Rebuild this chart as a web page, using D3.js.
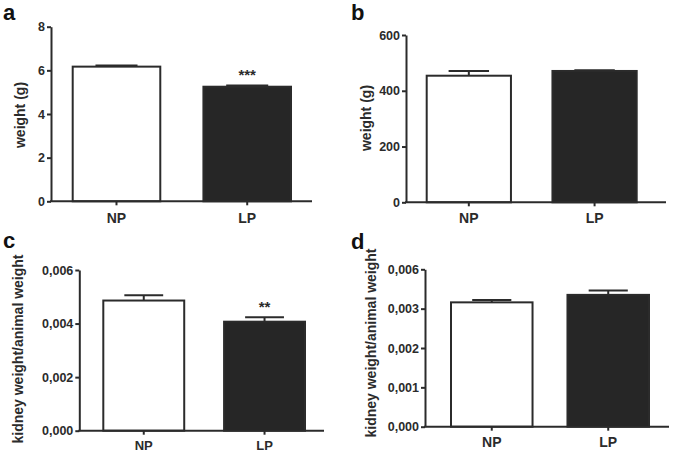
<!DOCTYPE html>
<html>
<head>
<meta charset="utf-8">
<script src="https://cdn.jsdelivr.net/npm/d3@7/dist/d3.min.js"></script>
<style>
  html, body { margin: 0; padding: 0; background: #fff; }
  svg { display: block; font-family: "Liberation Sans", Arial, Helvetica, sans-serif; }
</style>
</head>
<body>
<svg id="chart" width="675" height="452"></svg>
<script>
// ---------- DATA ----------
const categories = ["NP", "LP"];

const panelALetter = "a";
const panelAValues = [6.17, 5.25];
const panelAErrors = [0.05, 0.06];
const panelATicks = [0, 2, 4, 6, 8];
const panelATickLabels = ["0", "2", "4", "6", "8"];
const panelAYLabel = "weight (g)";
const panelASignif = ["", "***"];

const panelBLetter = "b";
const panelBValues = [454, 471];
const panelBErrors = [17, 3];
const panelBTicks = [0, 200, 400, 600];
const panelBTickLabels = ["0", "200", "400", "600"];
const panelBYLabel = "weight (g)";
const panelBSignif = ["", ""];

const panelCLetter = "c";
const panelCValues = [0.00486, 0.00407];
const panelCErrors = [0.00020, 0.00017];
const panelCTicks = [0, 0.002, 0.004, 0.006];
const panelCTickLabels = ["0,000", "0,002", "0,004", "0,006"];
const panelCYLabel = "kidney weight/animal weight";
const panelCSignif = ["", "**"];

const panelDLetter = "d";
const panelDValues = [0.00316, 0.00335];
const panelDErrors = [0.00006, 0.00011];
const panelDTicks = [0, 0.001, 0.002, 0.003, 0.004];
const panelDTickLabels = ["0,000", "0,001", "0,002", "0,003", "0,006"];
const panelDYLabel = "kidney weight/animal weight";
const panelDSignif = ["", ""];

// ---------- LAYOUT ----------
const INK = "#2b2b2b";
const BAR_DARK = "#262626";
const svg = d3.select("#chart");

const panels = [
  { letter: panelALetter, values: panelAValues, errors: panelAErrors, ticks: panelATicks, tickLabels: panelATickLabels,
    yLabel: panelAYLabel, signif: panelASignif,
    axisX: 51, yTop: 26.7, yBottom: 201.3, xEnd: 312, bandRange: [72.7, 291], padInner: 0.33,
    letterPos: [3, 20], yLabelPos: [25, 115], xLabelSize: 14, xLabelDy: 21.6 },
  { letter: panelBLetter, values: panelBValues, errors: panelBErrors, ticks: panelBTicks, tickLabels: panelBTickLabels,
    yLabel: panelBYLabel, signif: panelBSignif,
    axisX: 406, yTop: 35, yBottom: 202.3, xEnd: 666, bandRange: [426.7, 636.7], padInner: 0.33,
    letterPos: [351, 20], yLabelPos: [371, 118], xLabelSize: 14, xLabelDy: 20.6 },
  { letter: panelCLetter, values: panelCValues, errors: panelCErrors, ticks: panelCTicks, tickLabels: panelCTickLabels,
    yLabel: panelCYLabel, signif: panelCSignif,
    axisX: 79.3, yTop: 270, yBottom: 430.7, xEnd: 324, bandRange: [103.3, 305], padInner: 0.33,
    letterPos: [3, 248], yLabelPos: [22.5, 349], xLabelSize: 13, xLabelDy: 19 },
  { letter: panelDLetter, values: panelDValues, errors: panelDErrors, ticks: panelDTicks, tickLabels: panelDTickLabels,
    yLabel: panelDYLabel, signif: panelDSignif,
    axisX: 425, yTop: 269.3, yBottom: 426.7, xEnd: 669, bandRange: [451, 649], padInner: 0.3,
    letterPos: [351, 249], yLabelPos: [376, 343], xLabelSize: 14, xLabelDy: 19.8 }
];

panels.forEach(p => {
  const g = svg.append("g");
  const y = d3.scaleLinear()
    .domain([p.ticks[0], p.ticks[p.ticks.length - 1]])
    .range([p.yBottom, p.yTop]);
  const x = d3.scaleBand()
    .domain(categories)
    .range(p.bandRange)
    .paddingInner(p.padInner)
    .paddingOuter(0);
  const bw = x.bandwidth();
  const capW = bw * 0.48;

  // error bars (upper only)
  categories.forEach((c, i) => {
    const cx = x(c) + bw / 2;
    const top = y(p.values[i] + p.errors[i]);
    g.append("line").attr("x1", cx).attr("x2", cx)
      .attr("y1", y(p.values[i])).attr("y2", top)
      .attr("stroke", INK).attr("stroke-width", 2);
    g.append("line").attr("x1", cx - capW / 2).attr("x2", cx + capW / 2)
      .attr("y1", top).attr("y2", top)
      .attr("stroke", INK).attr("stroke-width", 2);
  });

  // bars
  g.selectAll("rect.bar").data(categories).enter().append("rect")
    .attr("class", "bar")
    .attr("x", c => x(c))
    .attr("width", bw)
    .attr("y", (c, i) => y(p.values[i]))
    .attr("height", (c, i) => y(p.ticks[0]) - y(p.values[i]))
    .attr("fill", (c, i) => i === 0 ? "#ffffff" : BAR_DARK)
    .attr("stroke", INK)
    .attr("stroke-width", 2);

  // significance stars
  categories.forEach((c, i) => {
    if (!p.signif[i]) return;
    const cx = x(c) + bw / 2;
    const top = y(p.values[i] + p.errors[i]);
    g.append("text")
      .attr("x", cx).attr("y", top - 5)
      .attr("text-anchor", "middle")
      .attr("font-size", 15)
      .attr("font-weight", "bold")
      .attr("fill", INK)
      .text(p.signif[i]);
  });

  // y axis
  const yAxis = d3.axisLeft(y)
    .tickValues(p.ticks)
    .tickFormat((d, i) => p.tickLabels[i])
    .tickSize(4)
    .tickSizeOuter(0)
    .tickPadding(2);
  const ya = g.append("g").attr("transform", `translate(${p.axisX},0)`).call(yAxis);
  ya.select(".domain").attr("stroke", INK).attr("stroke-width", 2);
  ya.selectAll(".tick line").attr("stroke", INK).attr("stroke-width", 2);
  ya.selectAll(".tick text")
    .attr("font-family", '"Liberation Sans", Arial, sans-serif')
    .attr("font-size", 12.5).attr("font-weight", "bold").attr("fill", INK);

  // x axis
  const xAxis = d3.axisBottom(x).tickSize(4).tickSizeOuter(0).tickPadding(3);
  const xa = g.append("g").attr("transform", `translate(0,${p.yBottom})`).call(xAxis);
  xa.select(".domain").remove();
  xa.selectAll(".tick line").attr("stroke", INK).attr("stroke-width", 2);
  xa.selectAll(".tick text").remove();
  xa.append("line").attr("x1", p.axisX - 1).attr("x2", p.xEnd)
    .attr("y1", 0).attr("y2", 0)
    .attr("stroke", INK).attr("stroke-width", 2);
  categories.forEach(c => {
    g.append("text")
      .attr("x", x(c) + bw / 2).attr("y", p.yBottom + p.xLabelDy)
      .attr("text-anchor", "middle")
      .attr("font-size", p.xLabelSize).attr("font-weight", "bold").attr("fill", INK)
      .text(c);
  });

  // y label
  g.append("text")
    .attr("transform", `translate(${p.yLabelPos[0]},${p.yLabelPos[1]}) rotate(-90)`)
    .attr("text-anchor", "middle")
    .attr("font-size", 14).attr("font-weight", "bold").attr("fill", INK)
    .text(p.yLabel);

  // panel letter
  g.append("text")
    .attr("x", p.letterPos[0]).attr("y", p.letterPos[1])
    .attr("font-size", 22).attr("font-weight", "bold").attr("fill", "#111")
    .text(p.letter);
});
</script>
</body>
</html>
